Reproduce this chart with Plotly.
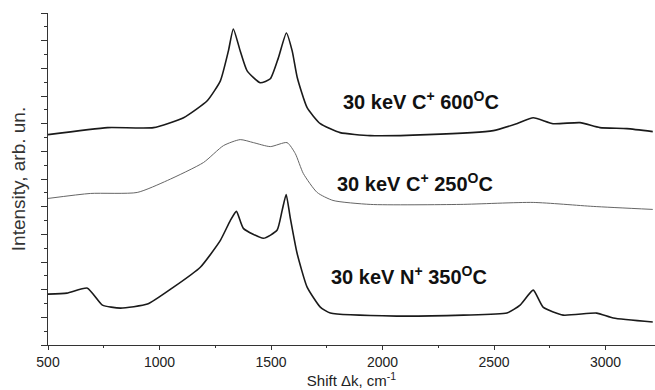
import plotly.graph_objects as go

# Raman spectra, intensity in arbitrary units
x_c600 = [500, 767, 973, 1108, 1214, 1273, 1309, 1331, 1362, 1393, 1452, 1497, 1533, 1569, 1595,
          1618, 1662, 1721, 1810, 1945, 2200, 2497, 2602, 2676, 2765, 2886, 2975, 3096, 3212]
y_c600 = [211, 218, 218, 228, 245, 265, 295, 317, 295, 275, 263, 267, 288, 313, 295,
          268, 238, 222, 213, 210, 211, 215, 222, 228, 222, 223, 218, 217, 214]

x_c250 = [500, 690, 900, 1035, 1197, 1287, 1362, 1421, 1497, 1572, 1609, 1645, 1707, 1778, 1945,
          2348, 2676, 2945, 3212]
y_c250 = [147, 152, 153, 165, 183, 200, 206, 203, 199, 203, 192, 172, 153, 145, 141,
          141, 143, 139, 136]

x_n350 = [500, 585, 677, 744, 825, 946, 1063, 1183, 1273, 1318, 1345, 1376, 1466, 1527, 1550,
          1568, 1586, 1617, 1662, 1721, 1766, 2064, 2363, 2558, 2617, 2676, 2720, 2810, 2960,
          3035, 3212]
y_n350 = [51, 52, 57, 40, 37, 41, 58, 78, 105, 125, 134, 117, 107, 115, 135,
          151, 128, 92, 58, 38, 32, 29, 30, 32, 40, 55, 38, 30, 32,
          27, 23]

labels = ["30 keV C<sup>+</sup> 600<sup>O</sup>C",
          "30 keV C<sup>+</sup> 250<sup>O</sup>C",
          "30 keV N<sup>+</sup> 350<sup>O</sup>C"]
label_x = [2172, 2146, 2120]
label_y = [245, 163, 70]

x_ticks = [500, 1000, 1500, 2000, 2500, 3000]

fig = go.Figure()
fig.add_trace(go.Scatter(x=x_c600, y=y_c600, mode="lines",
                         line=dict(color="#1a1a1a", width=1.6, shape="spline", smoothing=0.5)))
fig.add_trace(go.Scatter(x=x_c250, y=y_c250, mode="lines",
                         line=dict(color="#666666", width=1, shape="spline", smoothing=0.6)))
fig.add_trace(go.Scatter(x=x_n350, y=y_n350, mode="lines",
                         line=dict(color="#1a1a1a", width=1.6, shape="spline", smoothing=0.5)))

for t, xx, yy in zip(labels, label_x, label_y):
    fig.add_annotation(x=xx, y=yy, text="<b>" + t + "</b>", showarrow=False,
                       font=dict(family="Liberation Sans, Arial", size=20, color="#111"))

fig.update_layout(
    width=655, height=390,
    margin=dict(l=48, r=0, t=13, b=45),
    paper_bgcolor="white", plot_bgcolor="white",
    showlegend=False,
    font=dict(family="Liberation Sans, Arial", color="#222"),
    xaxis=dict(range=[500, 3222], tickvals=x_ticks, ticks="outside", ticklen=4,
               tickcolor="#333", showline=True, linecolor="#333", linewidth=1,
               showgrid=False, zeroline=False, tickfont=dict(size=14, color="#222"),
               minor=dict(dtick=250, tick0=500, ticks="outside", ticklen=2, tickcolor="#333"),
               title=dict(text="Shift \u0394k, cm<sup>-1</sup>", font=dict(size=15, color="#222"),
                          standoff=3)),
    yaxis=dict(range=[0, 333], tick0=0, dtick=27.75, ticks="outside", ticklen=6,
               tickcolor="#333", showticklabels=False, showline=True, linecolor="#333",
               linewidth=1, showgrid=False, zeroline=False,
               minor=dict(dtick=13.875, tick0=0, ticks="outside", ticklen=3, tickcolor="#333"),
               title=dict(text="Intensity, arb. un.", font=dict(size=19, color="#333"),
                          standoff=10)),
)

fig.write_html("out.html")
